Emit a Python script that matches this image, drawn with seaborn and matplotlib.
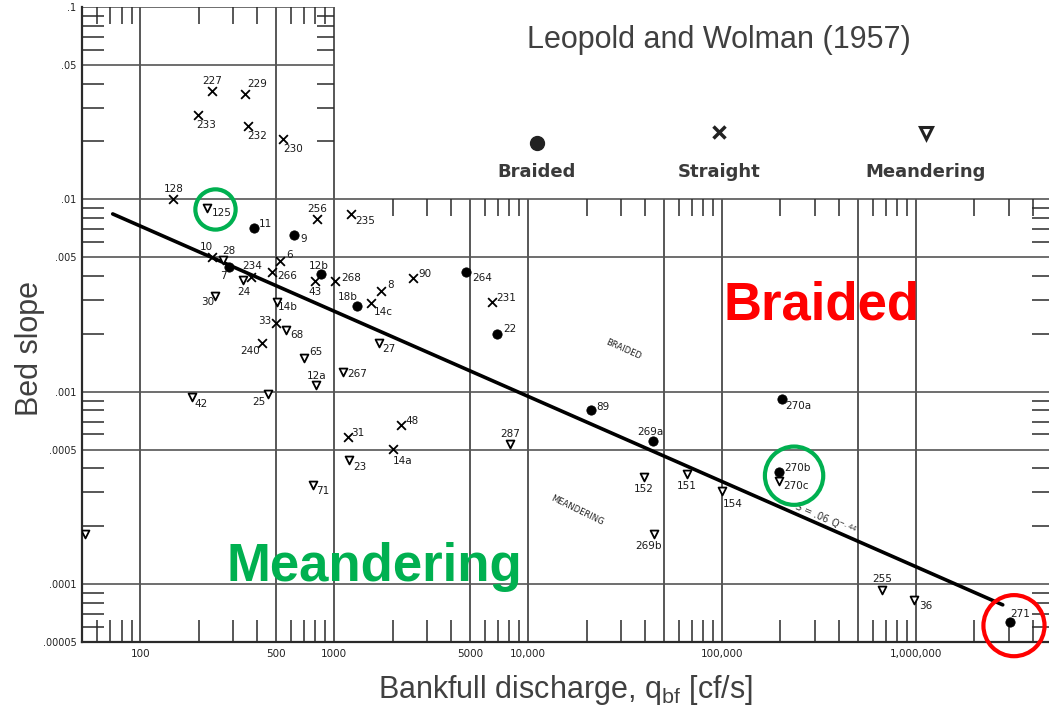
import pandas as pd
import matplotlib.pyplot as plt
import seaborn as sns
from matplotlib.ticker import FixedLocator, NullFormatter

# ------------------------------------------------------------------
# Datos leídos del gráfico de Leopold y Wolman (1957)
# Q = caudal a cauce lleno [cf/s], S = pendiente del lecho
# ------------------------------------------------------------------
braided_id = ['11', '9', '7', '12b', '18b', '264', '22', '89', '269a', '270a', '270b', '271']
braided_q = [387, 622, 288, 857, 1315, 4786, 6918, 21130, 44060, 203700, 196800, 3050000]
braided_s = [0.00713, 0.00654, 0.00444, 0.00408, 0.0028, 0.00418, 0.002, 0.000804,
             0.000552, 0.000918, 0.000384, 0.0000638]

straight_id = ['227', '229', '233', '232', '230', '128', '256', '235', '10', '234', '6', '266',
               '43', '268', '14c', '8', '90', '231', '33', '240', '31', '48', '14a']
straight_q = [235, 348, 199, 360, 546, 148, 817, 1225, 235, 373, 527, 479,
              798, 1012, 1552, 1746, 2553, 6516, 502, 425, 1180, 2213, 2014]
straight_s = [0.0366, 0.0352, 0.0273, 0.0242, 0.0205, 0.0101, 0.00794, 0.00844, 0.00501,
              0.00394, 0.00477, 0.00418, 0.00375, 0.00375, 0.0029, 0.00332, 0.00388,
              0.00294, 0.00228, 0.00179, 0.00058, 0.00067, 0.000501]

meander_id = ['125', '28', '24', '30', '14b', '68', '65', '27', '12a', '267', '42', '25',
              '23', '71', '287', '152', '151', '154', '269b', '270c', '255', '36', '']
meander_q = [221, 268, 340, 244, 508, 566, 700, 1706, 807, 1111, 185, 457,
             1194, 780, 8070, 39630, 66070, 100000, 44570, 196800, 668000, 977000, 52]
meander_s = [0.00897, 0.00483, 0.0038, 0.00313, 0.00294, 0.00209, 0.00149, 0.00179,
             0.00109, 0.00127, 0.000942, 0.000976, 0.000444, 0.000328, 0.000532,
             0.000361, 0.000375, 0.000305, 0.000183, 0.000344, 0.0000929, 0.0000824, 0.000183]

# recta S = 0.06 Q^-0.44 (extremos)
line_q = [72, 2800000]
line_s = [0.0084, 0.000078]

# puntos resaltados con círculos
green_q = [244, 235000]
green_s = [0.00886, 0.000366]
red_q = [3200000]
red_s = [0.0000608]

x_major = [100, 500, 1000, 5000, 10000, 50000, 100000, 500000, 1000000]
x_labels = ['100', '500', '1000', '5000', '10,000', '', '100,000', '', '1,000,000']
y_major = [0.1, 0.05, 0.01, 0.005, 0.001, 0.0005, 0.0001, 0.00005]
y_labels = ['.1', '.05', '.01', '.005', '.001', '.0005', '.0001', '.00005']

legend_names = ['Braided', 'Straight', 'Meandering']

# desplazamiento de cada etiqueta (pixeles, y hacia arriba)
label_off = {
    '11': (11, 4), '9': (9, -4), '7': (-6, -9), '12b': (-3, 8), '18b': (-10, 9),
    '264': (16, -6), '22': (13, 5), '89': (12, 3), '269a': (-3, 9), '270a': (16, -7),
    '270b': (18, 4), '271': (10, 8),
    '227': (0, 10), '229': (12, 10), '233': (8, -10), '232': (9, -10), '230': (10, -10),
    '128': (0, 10), '256': (0, 10), '235': (14, -7), '10': (-6, 10), '234': (1, 11),
    '6': (9, 6), '266': (15, -4), '43': (0, -11), '268': (16, 3), '14c': (12, -9),
    '8': (9, 6), '90': (12, 4), '231': (14, 4), '33': (-11, 2), '240': (-12, -8),
    '31': (10, 4), '48': (11, 4), '14a': (9, -12),
    '125': (15, -5), '28': (5, 9), '24': (0, -12), '30': (-8, -6), '14b': (11, -5),
    '68': (11, -5), '65': (12, 6), '27': (10, -6), '12a': (0, 9), '267': (14, -2),
    '42': (9, -7), '25': (-9, -8), '23': (11, -7), '71': (9, -6), '287': (0, 10),
    '152': (0, -12), '151': (0, -12), '154': (11, -13), '269b': (-6, -12), '270c': (17, -5),
    '255': (0, 11), '36': (12, -6),
}

df_b = pd.DataFrame({'Q': braided_q, 'S': braided_s, 'id': braided_id})
df_s = pd.DataFrame({'Q': straight_q, 'S': straight_s, 'id': straight_id})
df_m = pd.DataFrame({'Q': meander_q, 'S': meander_s, 'id': meander_id})

sns.set_style("white")
plt.rcParams['font.family'] = ['DejaVu Sans']

W, H = 1049, 709
fig = plt.figure(figsize=(W / 100, H / 100), dpi=100)
ax = fig.add_axes([82 / W, 67 / H, 967 / W, 635 / H])
ax.set_xscale('log')
ax.set_yscale('log')
xmin, xmax = 50, 4.85e6
ymin, ymax = 5e-5, 0.1
q_break, s_break = 1000, 0.01   # escalón del marco superior
ink = '#2a2a2a'

# ---- recta y datos ----
sns.lineplot(x=line_q, y=line_s, color='black', lw=2.6, ax=ax, zorder=3)

sns.scatterplot(data=df_b, x='Q', y='S', marker='o', s=45, color='black', edgecolor='black',
                ax=ax, zorder=4)
sns.scatterplot(data=df_s, x='Q', y='S', marker='x', s=40, color='black', linewidth=1.3,
                ax=ax, zorder=4)
sns.scatterplot(data=df_m, x='Q', y='S', marker='v', s=32, facecolor='white', edgecolor='black',
                linewidth=1.3, ax=ax, zorder=4)

for df in (df_b, df_s, df_m):
    for _, r in df.iterrows():
        if r['id'] == '':
            continue
        ax.annotate(r['id'], (r['Q'], r['S']), xytext=label_off.get(r['id'], (10, 0)),
                    textcoords='offset pixels', ha='center', va='center',
                    fontsize=7.5, color='#1a1a1a', zorder=5)

ax.text(30900, 0.00166, 'BRAIDED', rotation=-24, fontsize=6, ha='center', va='center', color='#222222')
ax.text(17900, 0.000242, 'MEANDERING', rotation=-26, fontsize=6, ha='center', va='center', color='#222222')
ax.text(340000, 0.000218, r'S = .06 Q$^{-.44}$', rotation=-24, fontsize=7, ha='center', va='center',
        color='#333333')

# círculos de resalte
ax.scatter(green_q, green_s, s=[29 ** 2, 42 ** 2], facecolors='none', edgecolors='#00b050',
           linewidths=3, clip_on=False, zorder=6)
ax.scatter(red_q, red_s, s=[44 ** 2], facecolors='none', edgecolors='#ff0000',
           linewidths=3, clip_on=False, zorder=6)

ax.set_xlabel('')
ax.set_ylabel('')
ax.set_xlim(xmin, xmax)
ax.set_ylim(ymin, ymax)

# ---- rejilla y marco ----
for xv in x_major:
    top = ymax if xv <= q_break else s_break
    ax.vlines(xv, ymin, top, color=ink, lw=1.1, zorder=1)
for yv in y_major:
    right = xmax if yv <= s_break else q_break
    ax.hlines(yv, xmin, right, color='#555555', lw=1.2, zorder=1)

for side in ['top', 'right']:
    ax.spines[side].set_visible(False)
for side in ['left', 'bottom']:
    ax.spines[side].set_color(ink)
    ax.spines[side].set_linewidth(1.6)

x_minor = [m * 10 ** e for e in range(1, 7) for m in (2, 3, 4, 6, 7, 8, 9) if xmin < m * 10 ** e < xmax]
y_minor = [m * 10 ** e for e in range(-5, -1) for m in (2, 3, 4, 6, 7, 8, 9) if ymin < m * 10 ** e < ymax]

ax.set_xticks(x_major, x_labels)
ax.set_yticks(y_major, y_labels)
ax.xaxis.set_minor_locator(FixedLocator(x_minor))
ax.yaxis.set_minor_locator(FixedLocator(y_minor))
ax.xaxis.set_minor_formatter(NullFormatter())
ax.yaxis.set_minor_formatter(NullFormatter())
ax.tick_params(which='both', bottom=True, left=True, top=False, right=False)
ax.tick_params(which='major', length=0, labelsize=7.5, colors='#222222')
ax.tick_params(axis='x', which='major', pad=5)
ax.tick_params(axis='y', which='major', pad=4, labelsize=7)
ax.tick_params(which='minor', direction='in', length=16, width=1.1, color=ink)

# marcas del marco superior y derecho
tk = dict(ls='none', color=ink, markersize=12, mew=1.1, clip_on=False, zorder=2)
top_a = [v for v in x_minor if v < q_break]
top_b = [v for v in x_minor if v > q_break]
right_a = [v for v in y_minor if v < s_break]
right_b = [v for v in y_minor if v > s_break]
ax.plot(top_a, [ymax] * len(top_a), marker=3, **tk)
ax.plot(top_b, [s_break] * len(top_b), marker=3, **tk)
ax.plot([xmax] * len(right_a), right_a, marker=0, **tk)
ax.plot([q_break] * len(right_b), right_b, marker=0, **tk)

# ---- leyenda dibujada a mano arriba a la derecha ----
leg_x = [537, 719, 926]
leg_mk = ['o', 'x', 'v']
leg_y = [143, 132, 133]
for name, lx, ly, mk in zip(legend_names, leg_x, leg_y, leg_mk):
    kw = dict(marker=mk, color='#222222', ls='none', transform=fig.transFigure, clip_on=False)
    if mk == 'o':
        kw.update(markersize=10)
    elif mk == 'x':
        kw.update(markersize=8, mew=2.5)
    else:
        kw.update(markersize=9, mfc='white', mew=2.2)
    ax.plot([lx / W], [1 - ly / H], **kw)
    fig.text(lx / W, 1 - 172 / H, name, ha='center', va='center', fontsize=13,
             fontweight='bold', color='#3a3a3a')

# ---- textos grandes ----
big = ['Liberation Sans', 'DejaVu Sans']
fig.text(719 / W, 1 - 40 / H, 'Leopold and Wolman (1957)', ha='center', va='center',
         fontsize=22, color='#404040', family=big)
fig.text(30 / W, 1 - 349 / H, 'Bed slope', ha='center', va='center', rotation=90,
         fontsize=22, color='#404040', family=big)
fig.text(565 / W, 1 - 690 / H, r'Bankfull discharge, q$_{\mathregular{bf}}$ [cf/s]',
         ha='center', va='center', fontsize=22, color='#404040', family=big)
fig.text(822 / W, 1 - 305 / H, 'Braided', ha='center', va='center', fontsize=38,
         fontweight='bold', color='#ff0000', family=big)
fig.text(374 / W, 1 - 567 / H, 'Meandering', ha='center', va='center', fontsize=38,
         fontweight='bold', color='#00b050', family=big)

plt.savefig('out.png', dpi=100)
